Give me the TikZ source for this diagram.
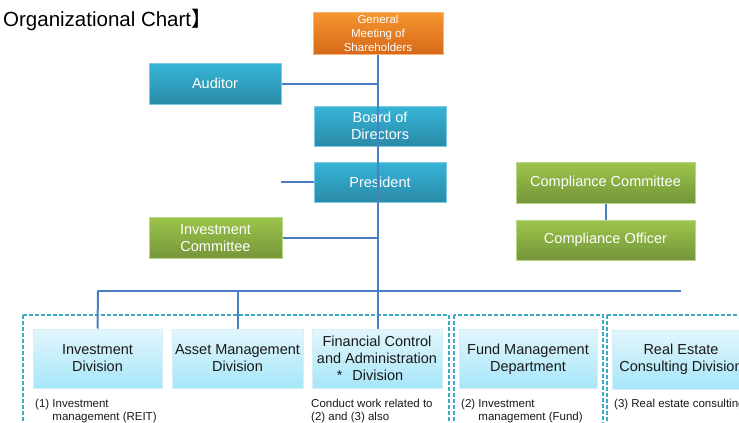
\documentclass[tikz,border=0pt]{standalone}
\usepackage{fontspec}
\setmainfont{Liberation Sans}
\newfontfamily\cjkfont{Noto Sans CJK JP}
\usepackage{xcolor}
\usetikzlibrary{calc}
\definecolor{cExecT}{HTML}{36B4D7}
\definecolor{cExecB}{HTML}{2A8BA7}
\definecolor{cExecL}{HTML}{7DCBE3}
\definecolor{cGmsT}{HTML}{F8962F}
\definecolor{cGmsB}{HTML}{D5691A}
\definecolor{cGmsL}{HTML}{FAB377}
\definecolor{cCmtT}{HTML}{9DC54B}
\definecolor{cCmtB}{HTML}{74953A}
\definecolor{cCmtL}{HTML}{B9D889}
\definecolor{cDivT}{HTML}{E2F6FC}
\definecolor{cDivB}{HTML}{A6E6F9}
\definecolor{cDivL}{HTML}{D6EEF5}
\definecolor{cLink}{HTML}{4A7EC5}
\definecolor{cFrame}{HTML}{3FAAC6}
\newcommand{\numnote}[3]{\begin{tabular}[t]{@{}l@{\ }l@{}}(#1)&#2\\&#3\end{tabular}}

\begin{document}
\begin{tikzpicture}[x=1pt,y=1pt,
  box/.style={rectangle,draw,line width=1pt,inner sep=0pt,align=center,
    text=white,font=\fontsize{14.5}{17}\selectfont},
  gmsbox/.style={box,top color=cGmsT,bottom color=cGmsB,draw=cGmsL,
    font=\fontsize{11.5}{14}\selectfont},
  execbox/.style={box,top color=cExecT,bottom color=cExecB,draw=cExecL},
  cmtbox/.style={box,top color=cCmtT,bottom color=cCmtB,draw=cCmtL},
  divbox/.style={box,top color=cDivT,bottom color=cDivB,draw=cDivL,
    text=black!90,minimum height=59},
  note/.style={inner sep=0pt,anchor=base west,font=\fontsize{11.5}{13}\selectfont,text=black!90},
  link/.style={draw=cLink,line width=2pt},
  frame/.style={draw=cFrame,line width=1.2pt,dash pattern=on 4pt off 2pt}]

  \useasboundingbox (0,0) rectangle (739,-423);
  \clip (0,0) rectangle (739,-423);

  \node[anchor=base west,inner sep=0pt,font=\fontsize{20.5}{24}\selectfont] (title)
    at (-19.5,-27) {{\cjkfont 【}\hspace{2pt}Organizational Chart{\cjkfont 】}};

  % top tier
  \node[gmsbox,minimum width=130,minimum height=42] (gms) at (378,-33)
    {General\\Meeting of\\Shareholders};
  \node[execbox,minimum width=132,minimum height=41] (aud) at (215,-83.5) {Auditor};
  \node[execbox,minimum width=132,minimum height=40] (board) at (380,-126) {Board of\\Directors};
  \node[execbox,minimum width=132,minimum height=40] (pres) at (380,-182) {President};
  \node[cmtbox,minimum width=179,minimum height=41] (cc) at (605.5,-182.5) {Compliance Committee};
  \node[cmtbox,minimum width=179,minimum height=40] (co) at (605.5,-240) {Compliance Officer};
  \node[cmtbox,minimum width=133,minimum height=41] (ic) at (215.5,-238) {Investment\\Committee};

  % frames
  \draw[frame] (23,-315) rectangle (449,-440);
  \draw[frame] (454,-315) rectangle (603,-440);
  \draw[frame] (607,-315) rectangle (760,-440);

  % divisions
  \node[divbox,minimum width=129] (inv) at (97.5,-358.5) {Investment\\Division};
  \node[divbox,minimum width=131] (asset) at (237.5,-358.5) {Asset Management\\Division};
  \node[divbox,minimum width=130] (fin) at (377,-358.5)
    {Financial Control\\and Administration\\*\hspace{10pt}Division\hspace*{14pt}};
  \node[divbox,minimum width=138] (fund) at (528,-359) {Fund Management\\Department};
  \node[divbox,minimum width=138] (real) at (681,-359.5) {Real Estate\\Consulting Division};

  \node[note] (n1) at (35,-407) {\numnote{1}{Investment}{management (REIT)}};
  \node[note] (n0) at (311,-407)
    {\begin{tabular}[t]{@{}l@{}}Conduct work related to\\(2) and (3) also\end{tabular}};
  \node[note] (n2) at (461,-407) {\numnote{2}{Investment}{management (Fund)}};
  \node[note] (n3) at (614,-407) {(3) Real estate consulting};

  % connectors
  \coordinate (stub) at (281,-182);
  \coordinate (busL) at (98,-290.5);
  \coordinate (busR) at (681,-290.5);
  \draw[link] (gms.south) -- (gms.south |- fin.north);
  \draw[link] (aud.east) -- (aud.east -| gms.south);
  \draw[link] (stub) -- (pres.west);
  \draw[link] (ic.east) -- (ic.east -| gms.south);
  \draw[link] ($(co.west)+(0,-9)$) -- ($(co.west)+(0,-9)$ -| gms.south);
  \draw[link] (cc.south) -- (co.north);
  \draw[link] (busL) -- (busR);
  \draw[link] (busL) -- (inv.north);
  \draw[link] (asset.north |- busL) -- (asset.north);
\end{tikzpicture}
\end{document}
